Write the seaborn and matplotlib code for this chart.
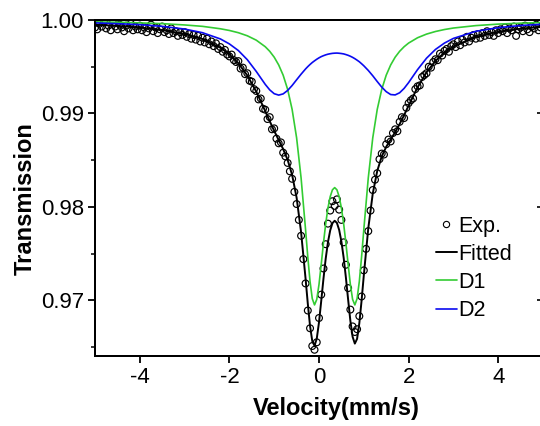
import matplotlib
matplotlib.use("Agg")
import matplotlib.pyplot as plt
import numpy as np
import pandas as pd
import seaborn as sns
from matplotlib.lines import Line2D
from matplotlib.ticker import FormatStrFormatter, MultipleLocator

sns.set_theme(style="ticks", rc={"axes.edgecolor": "black", "xtick.color": "black",
                                 "ytick.color": "black", "text.color": "black",
                                 "axes.labelcolor": "black"})
plt.rcParams["font.family"] = ["Liberation Sans", "DejaVu Sans"]
plt.rcParams["axes.unicode_minus"] = False

# experimental points, one every 0.05 mm/s from -5 to 5
velocity = np.linspace(-5.0, 5.0, 201)
transmission = [
    0.9992, 0.9990, 0.9996, 0.9993, 0.9998, 0.9991, 0.9994, 0.9989, 0.9997, 0.9993,
    0.9990, 0.9995, 0.9992, 0.9988, 0.9994, 0.9991, 0.9996, 0.9989, 0.9993, 0.9990,
    0.9994, 0.9989, 0.9992, 0.9987, 0.9991, 0.9995, 0.9988, 0.9992, 0.9986, 0.9990,
    0.9993, 0.9987, 0.9989, 0.9985, 0.9991, 0.9986, 0.9988, 0.9983, 0.9987, 0.9984,
    0.9987, 0.9982, 0.9985, 0.9980, 0.9984, 0.9979, 0.9983, 0.9977, 0.9981, 0.9976,
    0.9980, 0.9974, 0.9977, 0.9972, 0.9975, 0.9969, 0.9971, 0.9966, 0.9968, 0.9963,
    0.9961, 0.9963, 0.9957, 0.9955, 0.9956, 0.9948, 0.9949, 0.9942, 0.9943, 0.9935,
    0.9934, 0.9926, 0.9924, 0.9915, 0.9916, 0.9905, 0.9904, 0.9894, 0.9896, 0.9883,
    0.9884, 0.9873, 0.9868, 0.9869, 0.9858, 0.9854, 0.9847, 0.9838, 0.9830, 0.9816,
    0.9803, 0.9786, 0.9769, 0.9744, 0.9718, 0.9689, 0.9670, 0.9651, 0.9647, 0.9655,
    0.9681, 0.9706, 0.9734, 0.9760, 0.9782, 0.9796, 0.9806, 0.9801, 0.9808, 0.9797,
    0.9786, 0.9762, 0.9738, 0.9713, 0.9690, 0.9672, 0.9666, 0.9669, 0.9683, 0.9704,
    0.9732, 0.9755, 0.9774, 0.9796, 0.9818, 0.9829, 0.9836, 0.9851, 0.9857, 0.9856,
    0.9867, 0.9872, 0.9870, 0.9879, 0.9883, 0.9881, 0.9891, 0.9896, 0.9895, 0.9906,
    0.9911, 0.9914, 0.9916, 0.9926, 0.9929, 0.9930, 0.9939, 0.9941, 0.9943, 0.9950,
    0.9949, 0.9955, 0.9958, 0.9957, 0.9964, 0.9962, 0.9967, 0.9969, 0.9966, 0.9972,
    0.9974, 0.9971, 0.9977, 0.9973, 0.9979, 0.9976, 0.9982, 0.9977, 0.9981, 0.9984,
    0.9980, 0.9985, 0.9981, 0.9986, 0.9983, 0.9988, 0.9984, 0.9987, 0.9983, 0.9989,
    0.9986, 0.9990, 0.9988, 0.9992, 0.9986, 0.9991, 0.9989, 0.9993, 0.9983, 0.9990,
    0.9992, 0.9988, 0.9994, 0.9990, 0.9987, 0.9993, 0.9991, 0.9995, 0.9989, 0.9992,
    0.9994,
]

# fitted curve and the two doublets
curve_velocity = [
    -5.0, -4.5, -4.0, -3.5, -3.0, -2.6, -2.2, -2.0, -1.8, -1.6, -1.4, -1.2, -1.1,
    -1.0, -0.9, -0.8, -0.7, -0.6, -0.5, -0.4, -0.3, -0.25, -0.2, -0.15, -0.1, -0.05,
    0.0, 0.05, 0.1, 0.15, 0.2, 0.25, 0.3, 0.35, 0.4, 0.45, 0.5, 0.55, 0.6, 0.65,
    0.7, 0.75, 0.8, 0.85, 0.9, 0.95, 1.0, 1.1, 1.2, 1.3, 1.4, 1.5, 1.6, 1.7, 1.8,
    1.9, 2.0, 2.2, 2.4, 2.6, 2.8, 3.0, 3.5, 4.0, 4.5, 5.0,
]
fitted = [
    0.99949, 0.99937, 0.99919, 0.99893, 0.99850, 0.99796, 0.99703, 0.99632, 0.99537,
    0.99406, 0.99233, 0.99025, 0.98917, 0.98813, 0.98715, 0.98618, 0.98503, 0.98342,
    0.98099, 0.97730, 0.97232, 0.96963, 0.96725, 0.96562, 0.96513, 0.96589, 0.96764,
    0.96994, 0.97232, 0.97447, 0.97622, 0.97748, 0.97825, 0.97851, 0.97828, 0.97753,
    0.97629, 0.97457, 0.97244, 0.97008, 0.96781, 0.96609, 0.96536, 0.96587, 0.96754,
    0.96994, 0.97266, 0.97770, 0.98142, 0.98384, 0.98539, 0.98642, 0.98721, 0.98800,
    0.98886, 0.98982, 0.99083, 0.99279, 0.99440, 0.99562, 0.99651, 0.99717, 0.99819,
    0.99874, 0.99907, 0.99928,
]
d1 = [
    0.99980, 0.99976, 0.99969, 0.99961, 0.99947, 0.99932, 0.99906, 0.99888, 0.99864,
    0.99831, 0.99784, 0.99714, 0.99665, 0.99602, 0.99519, 0.99409, 0.99257, 0.99043,
    0.98739, 0.98310, 0.97756, 0.97462, 0.97201, 0.97017, 0.96950, 0.97009, 0.97169,
    0.97386, 0.97614, 0.97820, 0.97988, 0.98109, 0.98182, 0.98206, 0.98182, 0.98109,
    0.97988, 0.97820, 0.97614, 0.97386, 0.97169, 0.97009, 0.96950, 0.97017, 0.97201,
    0.97462, 0.97756, 0.98310, 0.98739, 0.99043, 0.99257, 0.99409, 0.99519, 0.99602,
    0.99665, 0.99714, 0.99753, 0.99810, 0.99849, 0.99877, 0.99898, 0.99914, 0.99940,
    0.99956, 0.99966, 0.99973,
]
d2 = [
    0.99969, 0.99961, 0.99950, 0.99932, 0.99903, 0.99864, 0.99797, 0.99744, 0.99673,
    0.99575, 0.99449, 0.99311, 0.99252, 0.99211, 0.99196, 0.99209, 0.99246, 0.99299,
    0.99360, 0.99420, 0.99476, 0.99501, 0.99524, 0.99545, 0.99563, 0.99580, 0.99595,
    0.99608, 0.99618, 0.99627, 0.99634, 0.99639, 0.99643, 0.99645, 0.99646, 0.99644,
    0.99641, 0.99637, 0.99630, 0.99622, 0.99612, 0.99600, 0.99586, 0.99570, 0.99553,
    0.99532, 0.99510, 0.99460, 0.99403, 0.99341, 0.99282, 0.99233, 0.99202, 0.99198,
    0.99221, 0.99268, 0.99330, 0.99469, 0.99591, 0.99685, 0.99753, 0.99803, 0.99879,
    0.99918, 0.99941, 0.99955,
]

legend_labels = ["Exp.", "Fitted", "D1", "D2"]
fit_color = "black"
d1_color = "#33cc33"
d2_color = "#0a0af0"

exp_df = pd.DataFrame({"velocity": velocity, "transmission": transmission})
curves = pd.DataFrame({"velocity": curve_velocity, "Fitted": fitted, "D1": d1, "D2": d2})

fig = plt.figure(figsize=(5.4, 4.26), dpi=100)
ax = fig.add_axes([95 / 540, 69.7 / 426, 448 / 540, 336.3 / 426])

sns.scatterplot(data=exp_df, x="velocity", y="transmission", ax=ax, marker="o", s=24,
                facecolors="none", edgecolor="black", linewidth=0.85, zorder=2)
sns.lineplot(data=curves, x="velocity", y="Fitted", ax=ax, color=fit_color,
             linewidth=1.4, estimator=None, zorder=3)
sns.lineplot(data=curves, x="velocity", y="D1", ax=ax, color=d1_color,
             linewidth=1.2, estimator=None, zorder=4)
sns.lineplot(data=curves, x="velocity", y="D2", ax=ax, color=d2_color,
             linewidth=1.2, estimator=None, zorder=5)

ax.set_xlim(-5, 5)
ax.set_ylim(0.964, 1.0)
ax.set_xticks([-4, -2, 0, 2, 4])
ax.set_yticks([0.97, 0.98, 0.99, 1.00])
ax.yaxis.set_major_formatter(FormatStrFormatter("%.2f"))
ax.yaxis.set_minor_locator(MultipleLocator(0.005))
ax.tick_params(axis="both", which="major", direction="out", length=5, width=1.3,
               labelsize=16, pad=3)
ax.tick_params(axis="y", which="minor", direction="out", length=3, width=1.1)
for side in ["left", "bottom", "top", "right"]:
    ax.spines[side].set_visible(True)
    ax.spines[side].set_linewidth(1.4)

# right-hand ticks point inwards
ax2 = ax.twinx()
ax2.set_ylim(ax.get_ylim())
ax2.set_yticks([0.97, 0.98, 0.99, 1.00])
ax2.tick_params(axis="y", direction="in", length=4, width=1.2, labelright=False)

ax.set_xlabel("Velocity(mm/s)", fontsize=17, fontweight="bold")
ax.set_ylabel("Transmission", fontsize=17, fontweight="bold")
ax.xaxis.set_label_coords(0.538, -0.12)
ax.yaxis.set_label_coords(-0.13, 0.47)

handles = [
    Line2D([], [], marker="o", ls="none", mfc="none", mec="black", ms=4.5, mew=0.8),
    Line2D([], [], color=fit_color, lw=1.4),
    Line2D([], [], color=d1_color, lw=1.2),
    Line2D([], [], color=d2_color, lw=1.2),
]
ax.legend(handles, legend_labels, loc="upper left", bbox_to_anchor=(0.7605, 0.418),
          frameon=False, borderpad=0, borderaxespad=0, handlelength=1.0,
          handletextpad=0.05, labelspacing=0.33, fontsize=15.5)

fig.savefig("out.png", dpi=100)
